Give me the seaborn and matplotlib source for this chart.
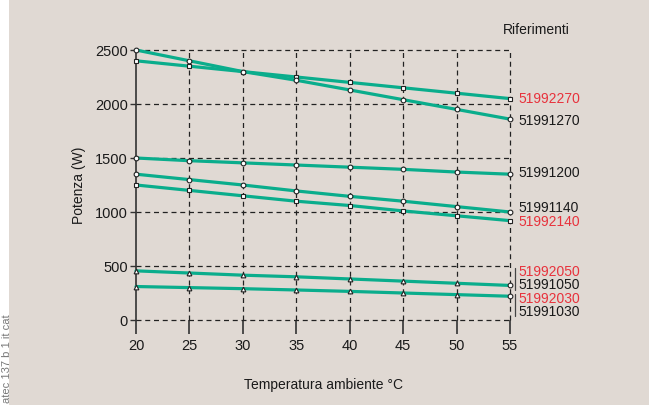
import matplotlib
matplotlib.use("Agg")
import matplotlib.pyplot as plt
import seaborn as sns
import pandas as pd

# data
temps = [20, 25, 30, 35, 40, 45, 50, 55]
p_51992270 = [2400, 2350, 2300, 2250, 2200, 2150, 2100, 2050]
p_51991270 = [2500, 2400, 2300, 2220, 2130, 2040, 1950, 1860]
p_51991200 = [1500, 1475, 1455, 1435, 1415, 1395, 1370, 1350]
p_51991140 = [1350, 1300, 1250, 1195, 1145, 1100, 1050, 1000]
p_51992140 = [1250, 1200, 1150, 1100, 1060, 1010, 965, 920]
p_x050 = [455, 435, 415, 400, 380, 360, 340, 320]
p_x030 = [310, 300, 290, 278, 265, 250, 235, 220]

series = [
    ("51992270", p_51992270, "s"),
    ("51991270", p_51991270, "o"),
    ("51991200", p_51991200, "o"),
    ("51991140", p_51991140, "o"),
    ("51992140", p_51992140, "s"),
    ("x050", p_x050, "^"),
    ("x030", p_x030, "^"),
]

# reference labels: (text, series it belongs to, colour, vertical offset in points)
ref_labels = [
    ("51992270", "51992270", "red", 0),
    ("51991270", "51991270", "black", -1),
    ("51991200", "51991200", "black", 1),
    ("51991140", "51991140", "black", 3),
    ("51992140", "51992140", "red", -1),
    ("51992050", "x050", "red", 10),
    ("51991050", "x050", "black", 0),
    ("51992030", "x030", "red", -2),
    ("51991030", "x030", "black", -11),
]

teal = "#0aad8c"
red = "#e8323c"
beige = "#e0d9d3"

sns.set_theme(style="white")
plt.rcParams["font.family"] = ["Liberation Sans", "DejaVu Sans"]

fig = plt.figure(figsize=(6.49, 4.05), dpi=100)
fig.patch.set_facecolor("white")
fig.add_artist(plt.Rectangle((9 / 649, 0), 1, 1, transform=fig.transFigure,
                             facecolor=beige, edgecolor="none", zorder=0))
fig.text(0.003, 0.005, "atec 137 b 1 it cat", rotation=90, color="#777777",
         fontsize=8, va="bottom", ha="left")

ax = fig.add_axes([136 / 649, 85 / 405, 374 / 649, 270 / 405])
ax.set_facecolor("none")

for name, vals, mk in series:
    df = pd.DataFrame({"t": temps, "p": vals})
    # triangle series end with a round marker in the reference
    sns.lineplot(data=df, x="t", y="p", ax=ax, color=teal, linewidth=2.3,
                 marker=mk, markersize=3.4, markerfacecolor="white",
                 markeredgecolor="#222222", markeredgewidth=0.8, zorder=3,
                 markevery=slice(0, 7) if mk == "^" else None, clip_on=False)
    if mk == "^":
        ax.plot(temps[-1], vals[-1], "o", ms=3.4, mfc="white", mec="#222222",
                mew=0.8, zorder=4, clip_on=False)

ends = {name: vals[-1] for name, vals, mk in series}
for text, key, col, dy in ref_labels:
    ax.annotate(text, xy=(temps[-1], ends[key]), xytext=(6, dy),
                textcoords="offset points", va="center", ha="left",
                fontsize=10, color=red if col == "red" else "#1a1a1a",
                annotation_clip=False)

# brackets grouping the paired references
for y0, y1 in [(278, 481), (37, 241)]:
    ax.plot([55.45, 55.45], [y0, y1], color="#444444", lw=0.9, clip_on=False)

ax.text(0.981, 1.074, "Riferimenti", transform=ax.transAxes, fontsize=10,
        color="#1a1a1a", ha="left", va="center")

ax.set_xlim(20, 55)
ax.set_ylim(0, 2500)
ax.set_xticks(temps)
ax.set_yticks([0, 500, 1000, 1500, 2000, 2500])

for yv in [0, 500, 1000, 1500, 2000, 2500]:
    ax.axhline(yv, color="#222222", lw=0.9, ls=(0, (4, 3)), zorder=1, clip_on=False)
for xv in temps[1:]:
    ax.axvline(xv, color="#222222", lw=0.9, ls=(0, (4, 3)), zorder=1, clip_on=False)

for s in ["top", "right", "bottom"]:
    ax.spines[s].set_visible(False)
ax.spines["left"].set_color("#333333")
ax.spines["left"].set_linewidth(1.2)

ax.tick_params(axis="x", direction="out", length=10, width=1.2, color="#333333",
               pad=4, labelsize=10.5, bottom=True, labelcolor="#1a1a1a")
ax.tick_params(axis="y", direction="out", length=4, width=1.0, color="#333333",
               pad=2, labelsize=10.5, left=True, labelcolor="#1a1a1a")

ax.set_xlabel("Temperatura ambiente °C", fontsize=10, color="#1a1a1a", labelpad=18)
ax.set_ylabel("Potenza (W)", fontsize=10, color="#1a1a1a", labelpad=6)

fig.savefig("out.png", dpi=100, facecolor=fig.get_facecolor())
